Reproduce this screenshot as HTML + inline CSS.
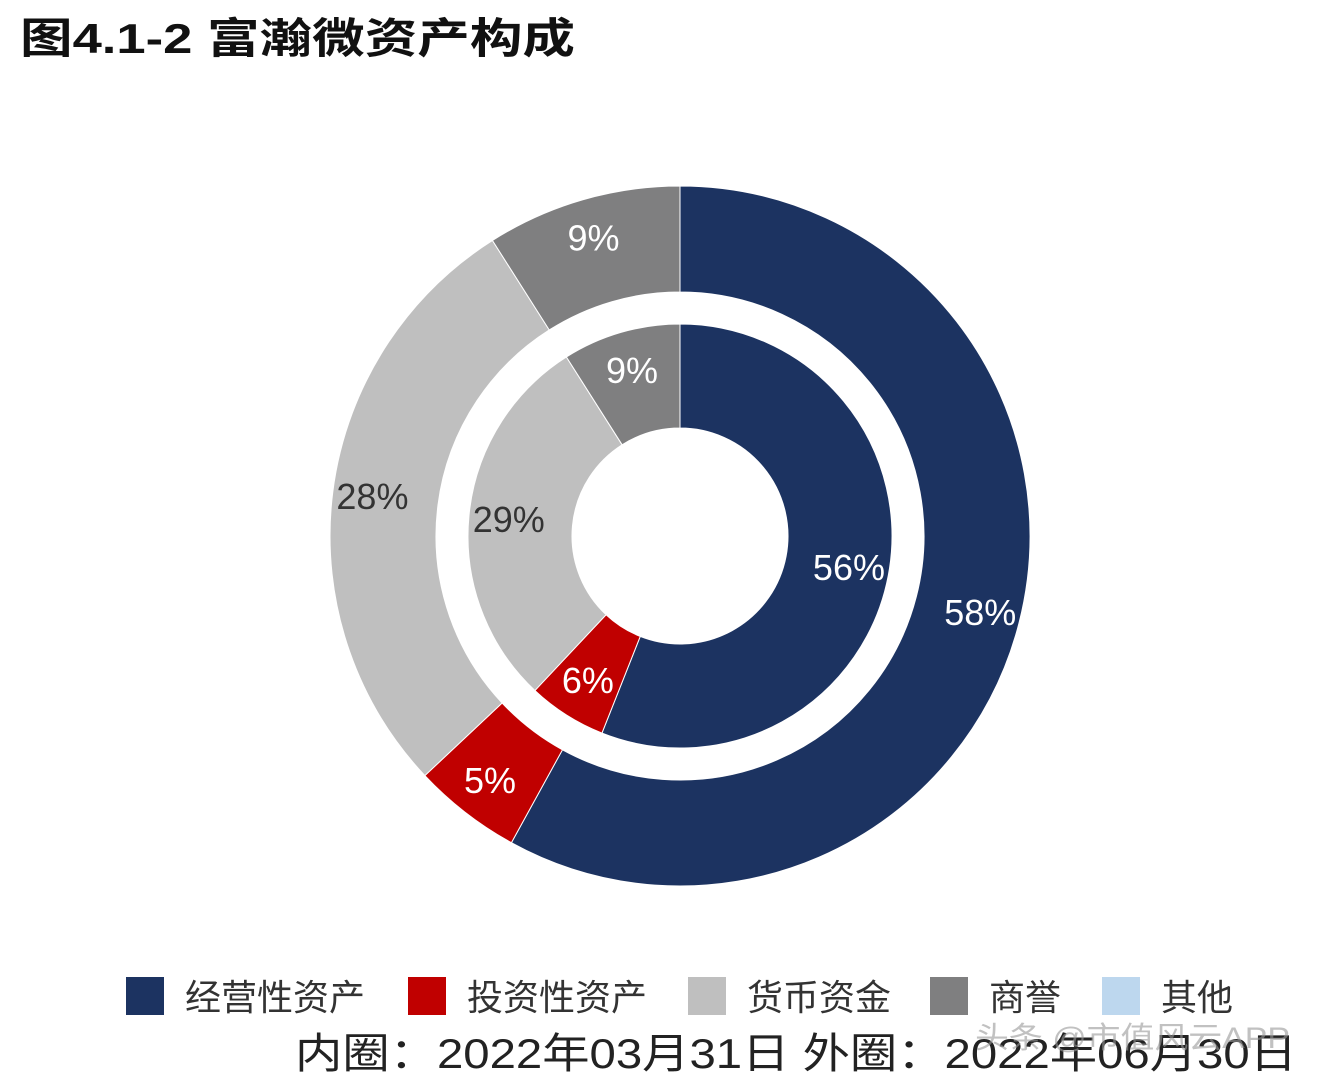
<!DOCTYPE html>
<html><head><meta charset="utf-8">
<style>
body{margin:0;background:#fff;width:1320px;height:1084px;overflow:hidden;font-family:"Liberation Sans","Noto Sans CJK SC",sans-serif;}
svg{position:absolute;left:0;top:0}
</style></head>
<body>
<svg id="chart" width="1320" height="1084">
<text x="20" y="53" font-size="42" font-weight="bold" fill="#111" textLength="555" lengthAdjust="spacingAndGlyphs" font-family="Liberation Sans, Noto Sans CJK SC, sans-serif">图4.1-2 富瀚微资产构成</text>
<g id="rings"></g>
<g id="legend"></g>
<text x="295" y="1068" font-size="42" fill="#222" textLength="1002" lengthAdjust="spacingAndGlyphs" font-family="Liberation Sans, Noto Sans CJK SC, sans-serif">内圈：2022年03月31日 外圈：2022年06月30日</text>
<text x="975" y="1048" font-size="30" fill="#999" opacity="0.6" textLength="315" lengthAdjust="spacingAndGlyphs" font-family="Liberation Sans, Noto Sans CJK SC, sans-serif">头条 @市值风云APP</text>
</svg>
<script>
const categories=["经营性资产","投资性资产","货币资金","商誉","其他"];
const innerValues=[56,6,29,9,0];
const outerValues=[58,5,28,9,0];
const colors=["#1c3361","#c00000","#bfbfbf","#7f7f80","#bdd7ee"];
const labelColors=["#fff","#fff","#333","#fff","#333"];
const NS="http://www.w3.org/2000/svg";
const cx=680,cy=536;
function pt(r,a){return [cx+r*Math.sin(a),cy-r*Math.cos(a)];}
function arc(r0,r1,a0,a1){
  const large=(a1-a0)>Math.PI?1:0;
  const [x0,y0]=pt(r1,a0),[x1,y1]=pt(r1,a1),[x2,y2]=pt(r0,a1),[x3,y3]=pt(r0,a0);
  return `M${x0},${y0}A${r1},${r1} 0 ${large} 1 ${x1},${y1}L${x2},${y2}A${r0},${r0} 0 ${large} 0 ${x3},${y3}Z`;
}
const g=document.getElementById('rings');
function ring(vals,r0,r1,name,lr){
  const tot=vals.reduce((a,b)=>a+b,0);let acc=0;
  vals.forEach((v,i)=>{
    if(v<=0)return;
    const a0=acc/tot*2*Math.PI;acc+=v;const a1=acc/tot*2*Math.PI;
    const p=document.createElementNS(NS,'path');
    p.setAttribute('d',arc(r0,r1,a0,a1));p.setAttribute('fill',colors[i]);
    p.setAttribute('stroke','#fff');p.setAttribute('stroke-width','1');
    
    
    g.appendChild(p);
    const [lx,ly]=pt(lr,(a0+a1)/2);
    const t=document.createElementNS(NS,'text');
    t.setAttribute('x',lx);t.setAttribute('y',ly+12);t.setAttribute('text-anchor','middle');
    t.setAttribute('font-size','36');t.setAttribute('fill',labelColors[i]);
    t.textContent=v+'%';
    
    
    g.appendChild(t);
  });
}
ring(outerValues,244,350,'outer',310);
ring(innerValues,108,212,'inner',172);
const lg=document.getElementById('legend');
const lx=[126,408,688,930,1102];
categories.forEach((c,i)=>{
  const r=document.createElementNS(NS,'rect');
  r.setAttribute('x',lx[i]);r.setAttribute('y',977);r.setAttribute('width',38);r.setAttribute('height',38);
  r.setAttribute('fill',colors[i]);
  
  
  lg.appendChild(r);
  const t=document.createElementNS(NS,'text');
  t.setAttribute('x',lx[i]+59);t.setAttribute('y',1010);t.setAttribute('font-size','36');t.setAttribute('fill','#333');
  t.setAttribute('font-family','Liberation Sans, Noto Sans CJK SC, sans-serif');
  t.textContent=c;
  
  
  lg.appendChild(t);
});
</script>
</body></html>
